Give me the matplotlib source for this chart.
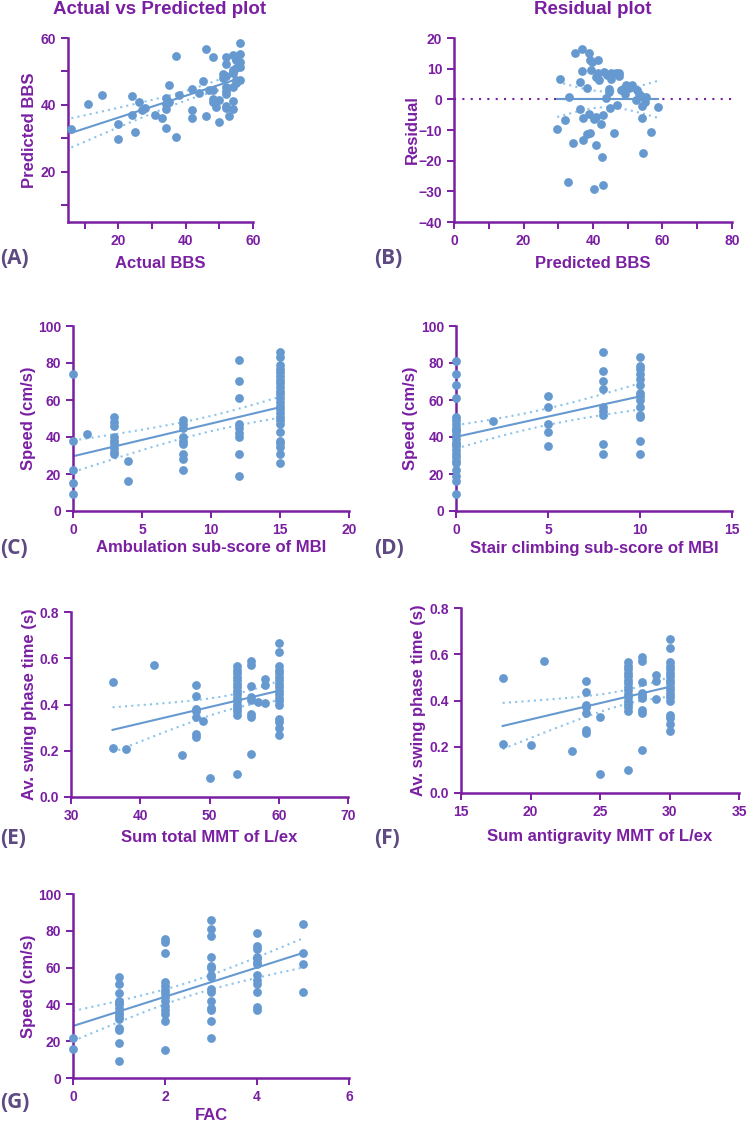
import numpy as np
import matplotlib.pyplot as plt
from matplotlib.ticker import MultipleLocator

# (A)/(B) actual vs predicted BBS, residual = actual - predicted
predicted_bbs = [29.7, 30.5, 31.9, 33.1, 32.9, 34.3, 34.9, 36.2, 36.2, 36.7, 36.7, 37.1, 37.1,
                 38.4, 38.4, 38.8, 38.8, 39.1, 39.1, 39.5, 39.8, 40.3, 40.3, 40.8, 40.8, 40.8,
                 41.3, 41.4, 41.7, 42.2, 42.7, 42.9, 43.0, 43.2, 43.7, 44.1, 44.6, 44.6, 44.9,
                 45.3, 45.3, 46.1, 46.5, 47.0, 47.5, 47.5, 48.0, 48.5, 49.1, 49.4, 49.9, 50.4,
                 50.9, 51.3, 52.3, 52.8, 53.3, 53.8, 54.2, 54.2, 54.5, 55.2, 54.9, 56.8, 58.6]
actual_bbs = [20, 37, 25, 34, 6, 20, 50, 42, 33, 53, 46, 31, 24,
              42, 27, 54, 34, 52, 28, 49, 52, 34, 11, 35, 26, 48,
              54, 50, 48, 34, 24, 15, 38, 52, 44, 52, 48, 47, 42,
              54, 52, 35, 55, 45, 56, 55, 51, 52, 51, 54, 54, 54,
              55, 56, 52, 56, 55, 55, 52, 48, 37, 56, 54, 46, 56]

# (C) ambulation sub-score vs speed
amb_score = [0, 0, 0, 0, 0, 1,
             3, 3, 3, 3, 3, 3, 3, 3, 3,
             4, 4,
             8, 8, 8, 8, 8, 8, 8, 8, 8,
             12, 12, 12, 12, 12, 12, 12, 12, 12,
             15, 15, 15, 15, 15, 15, 15, 15, 15, 15, 15, 15, 15, 15, 15, 15, 15, 15, 15,
             15, 15, 15, 15, 15, 15]
amb_speed = [74, 38, 22, 15, 9, 41.5,
             51, 48, 46, 40, 38, 36, 34, 32, 31,
             27, 16,
             49, 47, 45, 40, 38, 36, 31, 28, 22,
             81.5, 70.5, 61, 47, 45, 42, 40, 31, 19,
             86, 83, 79, 77, 75, 73, 71, 69, 67, 65, 63, 61, 59, 57, 55, 53, 51, 49, 47,
             42.5, 38, 36.5, 34.5, 31, 26]

# (D) stair climbing sub-score vs speed
stair_score = [0] * 24 + [2] + [5] * 5 + [8] * 9 + [10] * 14
stair_speed = [81, 74, 68, 61, 51, 49, 47, 45, 43, 41, 39, 37, 35, 33, 31, 29, 27, 26, 22, 19, 16, 9,
               44, 36,
               48.5,
               62, 56, 47, 42.5, 35,
               86, 75.5, 70.5, 66, 56, 54, 52, 36, 31,
               83, 78.5, 77, 74, 71.5, 68, 64, 62, 60, 56, 52, 51, 38, 31]

# (E)/(F) MMT sums vs average swing phase time
mmt_total = [36, 36, 38, 42, 46, 48, 48, 48, 48, 48, 48, 48, 49, 50,
             54, 54, 54, 54, 54, 54, 54, 54, 54, 54, 54, 54, 54, 54, 54, 54,
             56, 56, 56, 56, 56, 56, 56, 56, 57, 58, 58, 58,
             60, 60, 60, 60, 60, 60, 60, 60, 60, 60, 60, 60, 60, 60, 60, 60, 60, 60]
mmt_antigravity = [18, 18, 20, 21, 23, 24, 24, 24, 24, 24, 24, 24, 25, 25,
                   27, 27, 27, 27, 27, 27, 27, 27, 27, 27, 27, 27, 27, 27, 27, 27,
                   28, 28, 28, 28, 28, 28, 28, 28, 28, 29, 29, 29,
                   30, 30, 30, 30, 30, 30, 30, 30, 30, 30, 30, 30, 30, 30, 30, 30, 30, 30]
swing_time = [0.499, 0.212, 0.206, 0.571, 0.183, 0.486, 0.437, 0.382, 0.37, 0.346, 0.274, 0.259, 0.327, 0.082,
              0.565, 0.55, 0.535, 0.52, 0.505, 0.49, 0.475, 0.46, 0.445, 0.43, 0.415, 0.40, 0.385, 0.37, 0.355, 0.098,
              0.59, 0.57, 0.48, 0.432, 0.42, 0.357, 0.346, 0.187, 0.41, 0.512, 0.486, 0.406,
              0.666, 0.626, 0.565, 0.55, 0.535, 0.52, 0.505, 0.49, 0.475, 0.46, 0.445, 0.43, 0.415, 0.40,
              0.336, 0.324, 0.30, 0.267]

# (G) FAC vs speed
fac = [0, 0] + [1] * 15 + [2] * 14 + [3] * 15 + [4] * 13 + [5] * 4
fac_speed = [21.5, 16,
             55, 51, 46, 42, 41, 40, 38, 36, 35, 33, 32, 27, 26, 19, 9,
             75.5, 74, 68, 52, 50, 48, 46, 44, 42, 39, 37, 35, 31, 15,
             86, 81, 77, 66, 61, 60, 56, 55, 48.5, 47, 42, 38, 37, 31, 22,
             79, 71.5, 70, 66, 65, 63, 62, 56, 53, 51, 47, 38.5, 37,
             83.5, 68, 62, 47]

PURPLE = "#7a1fa2"
LABEL_COL = "#5e4a80"
DOT = "#6699cf"
BAND = "#8cc4ec"
W, H = 748, 1126
FONT = "Liberation Sans"

plt.rcParams["font.family"] = FONT
plt.rcParams["font.weight"] = "bold"


def box(l, r, t, b):
    return [l / W, 1 - b / H, (r - l) / W, (b - t) / H]


def fit_ci(x, y, t=1.99):
    x = np.asarray(x, float)
    y = np.asarray(y, float)
    b1, b0 = np.polyfit(x, y, 1)
    n = len(x)
    s = np.sqrt(np.sum((y - (b0 + b1 * x)) ** 2) / (n - 2))
    xs = np.linspace(x.min(), x.max(), 100)
    se = s * np.sqrt(1 / n + (xs - x.mean()) ** 2 / np.sum((x - x.mean()) ** 2))
    return xs, b0 + b1 * xs, t * se


def style(ax, xlim, ylim, xmaj, ymaj, xmin=None, ymin=None, fmt=None):
    ax.set_xlim(*xlim)
    ax.set_ylim(*ylim)
    for side in ["top", "right"]:
        ax.spines[side].set_visible(False)
    for side in ["left", "bottom"]:
        ax.spines[side].set_color(PURPLE)
        ax.spines[side].set_linewidth(1.8)
    ax.xaxis.set_major_locator(MultipleLocator(xmaj))
    ax.yaxis.set_major_locator(MultipleLocator(ymaj))
    if xmin:
        ax.xaxis.set_minor_locator(MultipleLocator(xmin))
    if ymin:
        ax.yaxis.set_minor_locator(MultipleLocator(ymin))
    if fmt:
        ax.yaxis.set_major_formatter(fmt)
    ax.tick_params(which="major", color=PURPLE, labelcolor=PURPLE, width=1.4, length=5,
                   labelsize=10, pad=3.5)
    ax.tick_params(which="minor", color=PURPLE, width=1.4, length=5)
    for lab in ax.get_xticklabels() + ax.get_yticklabels():
        lab.set_fontweight("bold")
    ax.set_facecolor("none")


def panel(ax, x, y, zero=False):
    xs, fit, hw = fit_ci(x, y)
    if zero:
        fit = np.zeros_like(xs)
    ax.plot(xs, fit + hw, ls=(0, (1, 2)), color=BAND, lw=1.5, zorder=2)
    ax.plot(xs, fit - hw, ls=(0, (1, 2)), color=BAND, lw=1.5, zorder=2)
    ax.plot(xs, fit, color=DOT, lw=1.5, zorder=2)
    ax.scatter(x, y, s=40, color=DOT, linewidths=0, zorder=3, clip_on=False)


def labels(ax, xlabel, ylabel, xl_y, yl_x):
    ax.set_xlabel(xlabel, color=PURPLE, fontsize=12, fontweight="bold", va="center")
    ax.set_ylabel(ylabel, color=PURPLE, fontsize=12, fontweight="bold", va="center")
    ax.xaxis.set_label_coords(0.5, xl_y)
    ax.yaxis.set_label_coords(yl_x, 0.5)


one_dec = lambda v, p: f"{v:.1f}"

fig = plt.figure(figsize=(W / 100, H / 100), dpi=100)

# (A)
axA = fig.add_axes(box(68, 253, 38, 222))
panel(axA, actual_bbs, predicted_bbs)
style(axA, (5, 60), (5, 60), 20, 20, 10, 10)
labels(axA, "Actual BBS", "Predicted BBS", -(263 - 222) / 184, (30 - 68) / 185)

# (B)
residual = np.array(actual_bbs) - np.array(predicted_bbs)
axB = fig.add_axes(box(454, 732, 38, 222))
axB.axhline(0, color=PURPLE, ls=(0, (1, 3)), lw=1.5, zorder=1)
panel(axB, predicted_bbs, residual, zero=True)
style(axB, (0, 80), (-40, 20), 20, 10, 10)
labels(axB, "Predicted BBS", "Residual", -(263 - 222) / 184, (412 - 454) / 278)

# (C)
axC = fig.add_axes(box(73, 349, 326, 511))
panel(axC, amb_score, amb_speed)
style(axC, (0, 20), (0, 100), 5, 20)
labels(axC, "Ambulation sub-score of MBI", "Speed (cm/s)", -(548 - 511) / 185, (28 - 73) / 276)

# (D)
axD = fig.add_axes(box(456, 732, 326, 511))
panel(axD, stair_score, stair_speed)
style(axD, (0, 15), (0, 100), 5, 20)
labels(axD, "Stair climbing sub-score of MBI", "Speed (cm/s)", -(548 - 511) / 185, (411 - 456) / 276)

# (E)
axE = fig.add_axes(box(71, 348, 612, 797))
panel(axE, mmt_total, swing_time)
style(axE, (30, 70), (0, 0.8), 10, 0.2, fmt=one_dec)
labels(axE, "Sum total MMT of L/ex", "Av. swing phase time (s)", -(837 - 797) / 185, (30 - 71) / 277)

# (F)
axF = fig.add_axes(box(461, 739, 608, 793))
panel(axF, mmt_antigravity, swing_time)
style(axF, (15, 35), (0, 0.8), 5, 0.2, fmt=one_dec)
labels(axF, "Sum antigravity MMT of L/ex", "Av. swing phase time (s)", -(837 - 793) / 185, (419 - 461) / 278)

# (G)
axG = fig.add_axes(box(73, 349, 894, 1078))
panel(axG, fac, fac_speed)
style(axG, (0, 6), (0, 100), 2, 20)
labels(axG, "FAC", "Speed (cm/s)", -(1116 - 1078) / 184, (28 - 73) / 276)

# titles and panel letters
fig.text(160 / W, 1 - 10 / H, "Actual vs Predicted plot", color=PURPLE, fontsize=13.5,
         fontweight="bold", ha="center", va="center")
fig.text(593 / W, 1 - 10 / H, "Residual plot", color=PURPLE, fontsize=13.5,
         fontweight="bold", ha="center", va="center")
for lab, px, py in [("(A)", 0, 258), ("(B)", 374, 258), ("(C)", 0, 548), ("(D)", 374, 548),
                    ("(E)", 0, 838), ("(F)", 374, 838), ("(G)", 0, 1102)]:
    fig.text(px / W, 1 - py / H, lab, color=LABEL_COL, fontsize=15, fontweight="bold",
             family="Open Sans", ha="left", va="center")

fig.savefig("out.png", dpi=100)
